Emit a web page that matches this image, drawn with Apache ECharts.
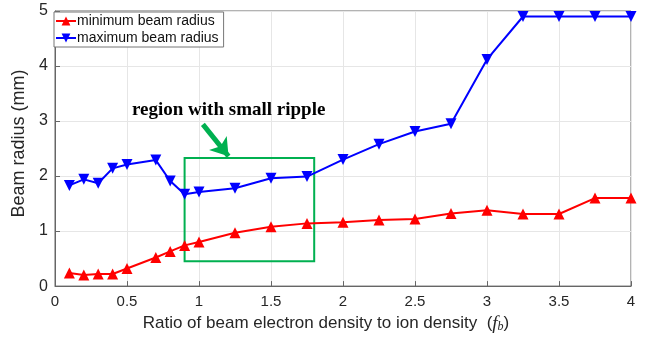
<!DOCTYPE html>
<html>
<head>
<meta charset="utf-8">
<style>
  html, body { margin: 0; padding: 0; background: #fff; }
  #chart { width: 650px; height: 338px; }
</style>
<script src="https://cdn.jsdelivr.net/npm/echarts@6/dist/echarts.min.js"></script>
</head>
<body>
<div id="chart"></div>
<script>
// Density ratio f_b sampled in the simulations
const fb = [0.1, 0.2, 0.3, 0.4, 0.5, 0.7, 0.8, 0.9, 1, 1.25, 1.5, 1.75, 2, 2.25, 2.5, 2.75, 3, 3.25, 3.5, 3.75, 4];
// Beam radius envelope (mm)
const minRadius = [0.24, 0.2, 0.22, 0.22, 0.32, 0.52, 0.63, 0.74, 0.8, 0.97, 1.08, 1.14, 1.16, 1.2, 1.22, 1.32, 1.38, 1.31, 1.31, 1.6, 1.6];
const maxRadius = [1.83, 1.94, 1.87, 2.14, 2.21, 2.29, 1.91, 1.67, 1.71, 1.78, 1.96, 1.99, 2.3, 2.58, 2.81, 2.95, 4.12, 4.9, 4.9, 4.9, 4.9];
// Highlighted low-ripple window: [x0, y0, x1, y1]
const rippleBox = [0.9, 0.45, 1.8, 2.33];
// Annotation arrow: tail and head in data units
const arrowTail = [1.027, 2.94];
const arrowHead = [1.205, 2.36];
const noteText = 'region with small ripple';
const notePos = [1.206, 3.19];

const textColor = '#262626';
const sans = 'Liberation Sans, Arial, sans-serif';

const chart = echarts.init(document.getElementById('chart'));
const pairs = (ys) => fb.map((x, i) => [x, ys[i]]);

chart.setOption({
  animation: false,
  backgroundColor: '#fff',
  grid: { left: 55, right: 19, top: 11, bottom: 50, show: true, borderColor: '#666', borderWidth: 1, backgroundColor: 'transparent' },
  legend: {
    left: 54, top: 12, orient: 'vertical',
    itemGap: 3, itemWidth: 20, itemHeight: 11,
    padding: [2, 5, 2, 1],
    backgroundColor: '#fff', borderColor: '#777', borderWidth: 1, borderRadius: 0,
    textStyle: { fontFamily: sans, fontSize: 14, color: '#111', padding: [0, 0, 0, -4] },
    data: [
      { name: 'minimum beam radius' },
      { name: 'maximum beam radius' }
    ]
  },
  xAxis: {
    type: 'value', min: 0, max: 4, interval: 0.5,
    name: '{t|Ratio of beam electron density to ion density  (}{f|f}{b|b}{t|)}',
    nameLocation: 'middle', nameGap: 27,
    nameTextStyle: {
      padding: [0, 34, 0, 0],
      rich: {
        t: { fontFamily: sans, fontSize: 17, color: textColor },
        f: { fontFamily: 'Liberation Serif, serif', fontStyle: 'italic', fontSize: 19, color: textColor },
        b: { fontFamily: 'Liberation Serif, serif', fontStyle: 'italic', fontSize: 12, color: textColor, verticalAlign: 'bottom', padding: [7, 0, 0, 0] }
      }
    },
    axisLine: { show: true, onZero: false, lineStyle: { color: '#666' } },
    axisTick: { inside: true, length: 5, lineStyle: { color: '#666' } },
    axisLabel: { fontFamily: sans, fontSize: 15, color: textColor, margin: 8 },
    splitLine: { show: true, lineStyle: { color: '#e6e6e6' } }
  },
  yAxis: {
    type: 'value', min: 0, max: 5, interval: 1,
    name: 'Beam radius (mm)', nameLocation: 'middle', nameGap: 25,
    nameTextStyle: { fontFamily: sans, fontSize: 18, color: textColor, padding: [0, 0, 0, 10] },
    axisLine: { show: true, lineStyle: { color: '#666' } },
    axisTick: { show: true, inside: true, length: 5, lineStyle: { color: '#666' } },
    axisLabel: { fontFamily: sans, fontSize: 16, color: textColor, margin: 7 },
    splitLine: { show: true, lineStyle: { color: '#e6e6e6' } }
  },
  series: [
    {
      name: 'minimum beam radius', type: 'line', data: pairs(minRadius),
      color: '#ff0000', lineStyle: { width: 2 },
      symbol: 'triangle', symbolSize: 11, showAllSymbol: true, z: 3
    },
    {
      name: 'maximum beam radius', type: 'line', data: pairs(maxRadius),
      color: '#0000ff', lineStyle: { width: 2 },
      symbol: 'triangle', symbolRotate: 180, symbolSize: 11, showAllSymbol: true, z: 3,
      markArea: {
        silent: true,
        itemStyle: { color: 'rgba(0,0,0,0)', borderColor: '#00b050', borderWidth: 2 },
        data: [[{ coord: [rippleBox[0], rippleBox[1]] }, { coord: [rippleBox[2], rippleBox[3]] }]]
      },
      markLine: {
        silent: true, symbol: ['none', 'arrow'], symbolSize: [17, 17],
        label: { show: false },
        lineStyle: { color: '#00b050', width: 5, type: 'solid' },
        data: [[{ coord: arrowTail }, { coord: arrowHead }]]
      },
      markPoint: {
        silent: true, symbol: 'circle', symbolSize: 0,
        label: {
          show: true, position: 'inside', formatter: noteText,
          fontFamily: 'Liberation Serif, Times New Roman, serif', fontWeight: 'bold', fontSize: 19, color: '#000'
        },
        data: [{ coord: notePos }]
      }
    }
  ]
});
</script>
</body>
</html>
